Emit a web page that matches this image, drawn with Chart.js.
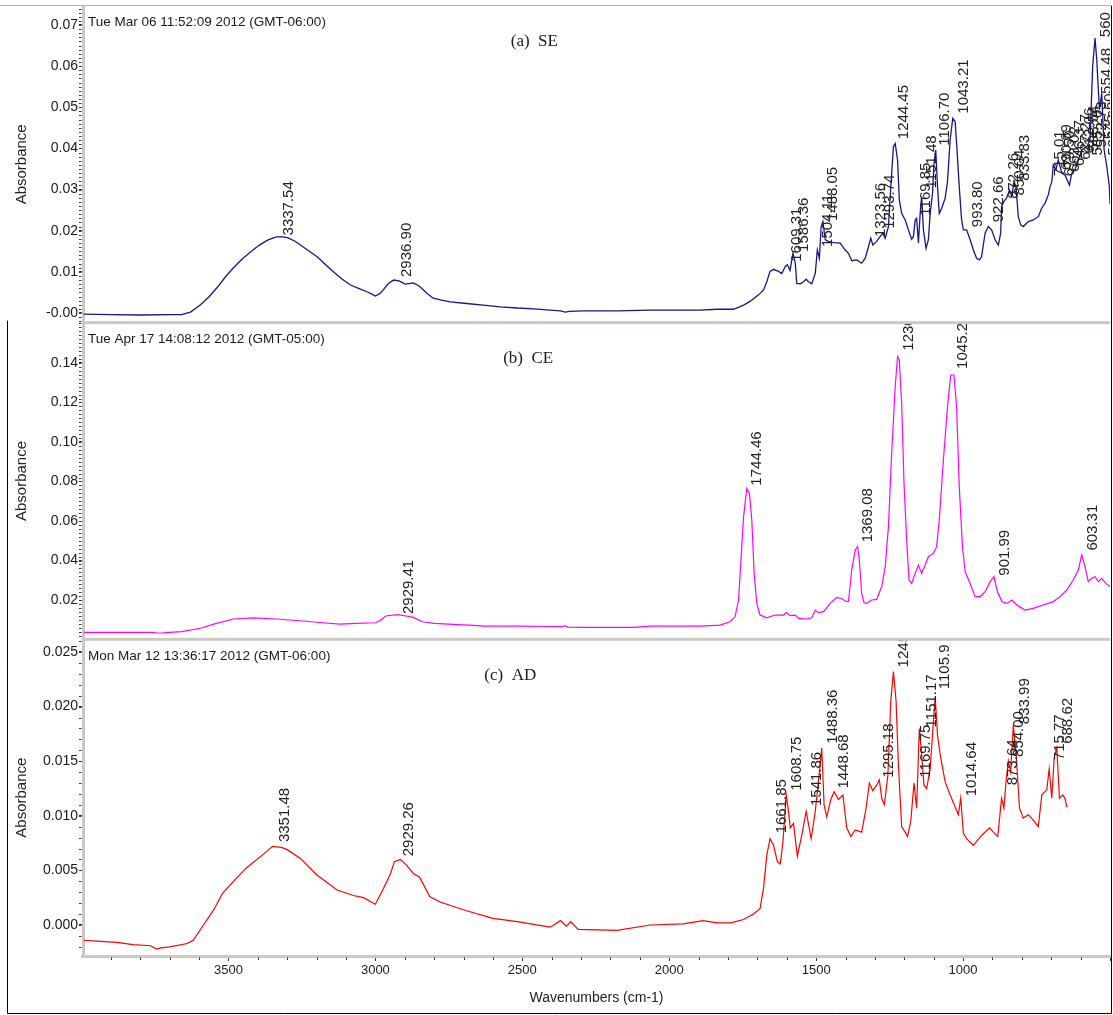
<!DOCTYPE html>
<html><head><meta charset="utf-8">
<script src="https://cdn.jsdelivr.net/npm/chart.js@4.4.1/dist/chart.umd.min.js"></script>
<style>html,body{margin:0;padding:0;background:#fff;}#wrap{position:relative;width:1113px;height:1015px;}</style>
</head><body><div id="wrap"><canvas id="c" width="1113" height="1015"></canvas></div>
<script>
// ---------- (a) SE ----------
const wnA = [3993,3900,3800,3700,3660,3629,3595,3565,3537,3510,3483,3455,3425,3395,3367,3337,3315,3299,3275,3255,3225,3197,3170,3143,3115,3085,3055,3027,3010,3000,2985,2973,2960,2949,2937,2920,2898,2880,2871,2860,2847,2825,2803,2775,2745,2690,2633,2575,2517,2460,2405,2370,2354,2340,2293,2177,2065,1952,1895,1837,1781,1747,1725,1696,1679,1668,1657,1645,1628,1617,1605,1598,1589,1579,1571,1566,1554,1543,1534,1526,1515,1503,1496,1489,1483,1477,1469,1458,1441,1418,1401,1390,1379,1362,1345,1333,1322,1314,1307,1294,1282,1273,1265,1254,1246,1237,1231,1223,1217,1209,1197,1186,1175,1169,1163,1158,1152,1146,1141,1135,1126,1118,1112,1104,1099,1093,1087,1081,1073,1061,1053,1044,1035,1027,1022,1013,1005,999,988,976,965,954,944,937,925,914,903,891,880,872,869,861,852,842,834,827,820,812,804,795,778,761,744,733,721,710,704,698,693,684,676,664,653,638,630,619,608,596,579,568,559,551,545,536,528,520,511,502,500];
const absA = [-0.0003,-0.0004,-0.0005,-0.0004,-0.0004,0.0002,0.0020,0.0040,0.0063,0.0088,0.0110,0.0130,0.0148,0.0165,0.0177,0.0185,0.0185,0.0183,0.0175,0.0165,0.0150,0.0136,0.0118,0.0100,0.0083,0.0068,0.0059,0.0051,0.0045,0.0041,0.0047,0.0056,0.0068,0.0075,0.0080,0.0078,0.0070,0.0072,0.0073,0.0069,0.0063,0.0048,0.0036,0.0031,0.0027,0.0023,0.0019,0.0015,0.0012,0.0010,0.0007,0.0005,0.0002,0.0004,0.0005,0.0005,0.0007,0.0007,0.0007,0.0009,0.0009,0.0019,0.0028,0.0044,0.0056,0.0076,0.0101,0.0106,0.0101,0.0096,0.0113,0.0117,0.0103,0.0145,0.0121,0.0072,0.0071,0.0076,0.0082,0.0076,0.0071,0.0096,0.0153,0.0133,0.0210,0.0222,0.0178,0.0174,0.0171,0.0170,0.0153,0.0145,0.0127,0.0129,0.0121,0.0133,0.0161,0.0182,0.0165,0.0174,0.0186,0.0194,0.0182,0.0210,0.0307,0.0404,0.0412,0.0372,0.0275,0.0242,0.0226,0.0202,0.0179,0.0186,0.0226,0.0230,0.0170,0.0242,0.0283,0.0202,0.0157,0.0178,0.0242,0.0291,0.0364,0.0396,0.0307,0.0242,0.0254,0.0279,0.0319,0.0421,0.0473,0.0465,0.0412,0.0307,0.0226,0.0202,0.0202,0.0178,0.0153,0.0133,0.0129,0.0137,0.0194,0.0210,0.0202,0.0178,0.0165,0.0194,0.0259,0.0271,0.0279,0.0299,0.0283,0.0319,0.0307,0.0234,0.0214,0.0210,0.0222,0.0226,0.0234,0.0254,0.0267,0.0287,0.0307,0.0319,0.0360,0.0348,0.0372,0.0340,0.0335,0.0311,0.0340,0.0348,0.0372,0.0396,0.0404,0.0421,0.0599,0.0668,0.0615,0.0494,0.0534,0.0396,0.0356,0.0307,0.0265];
const peakWnA = [3337.54,2936.90,1609.31,1586.36,1504.11,1488.05,1323.56,1293.74,1244.45,1169.85,1151.48,1106.70,1043.21,993.80,922.66,872.26,850.04,833.83,715.01,690.69,679.50,663.02,646.37,627.27,612.06,598.54,585.20,572.73,560,554.48,545.60,532.19,520.86,510.33];
const peakTextA = ['3337.54','2936.90','1609.31','1586.36','1504.11','1488.05','1323.56','1293.74','1244.45','1169.85','1151.48','1106.70','1043.21','993.80','922.66','872.26','850.04','833.83','715.01','690.69','679.50','663.02','646.37','627.27','612.06','598.54','585.20','572.73','560','554.48','545.60','532.19','520.86','510.33'];
const peakAbsA = [0.0186,0.0085,0.0122,0.0146,0.0158,0.0221,0.0182,0.0202,0.0420,0.0234,0.0300,0.0404,0.0482,0.0206,0.0218,0.0275,0.0283,0.0319,0.0330,0.0345,0.0330,0.0340,0.0355,0.0370,0.0385,0.0390,0.0380,0.0400,0.0668,0.0530,0.0420,0.0380,0.0350,0.0320];

// ---------- (b) CE ----------
const wnB = [3993,3800,3760,3745,3720,3700,3660,3595,3550,3483,3415,3337,3255,3180,3120,3065,3000,2985,2965,2925,2890,2870,2840,2800,2735,2650,2633,2517,2400,2360,2355,2345,2293,2120,2065,1895,1827,1793,1776,1764,1756,1747,1736,1727,1719,1711,1702,1691,1668,1640,1611,1602,1588,1571,1560,1532,1515,1503,1492,1475,1452,1430,1413,1401,1390,1379,1367,1359,1353,1345,1337,1328,1311,1294,1277,1265,1254,1243,1231,1223,1217,1209,1201,1192,1184,1175,1163,1152,1141,1129,1118,1101,1090,1081,1067,1053,1042,1031,1022,1013,1002,993,976,959,942,925,908,895,883,868,851,834,817,789,761,727,693,670,647,625,608,596,585,574,562,551,540,528,514,500];
const absB = [0.0036,0.0036,0.0036,0.0033,0.0034,0.0036,0.0040,0.0057,0.0078,0.0104,0.0110,0.0104,0.0095,0.0085,0.0078,0.0082,0.0085,0.0095,0.0119,0.0126,0.0118,0.0112,0.0090,0.0082,0.0077,0.0070,0.0068,0.0068,0.0066,0.0066,0.0070,0.0063,0.0062,0.0062,0.0068,0.0068,0.0073,0.0090,0.0115,0.0200,0.0402,0.0622,0.0765,0.0740,0.0605,0.0335,0.0183,0.0124,0.0110,0.0124,0.0124,0.0137,0.0121,0.0124,0.0107,0.0104,0.0110,0.0149,0.0136,0.0141,0.0183,0.0213,0.0208,0.0195,0.0192,0.0352,0.0453,0.0470,0.0402,0.0234,0.0186,0.0183,0.0200,0.0203,0.0268,0.0369,0.0571,0.0943,0.1280,0.1432,0.1415,0.1196,0.0791,0.0504,0.0301,0.0284,0.0335,0.0377,0.0335,0.0377,0.0419,0.0436,0.0470,0.0605,0.0909,0.1179,0.1339,0.1339,0.1179,0.0774,0.0470,0.0343,0.0284,0.0217,0.0217,0.0242,0.0293,0.0318,0.0242,0.0192,0.0183,0.0200,0.0175,0.0149,0.0158,0.0175,0.0192,0.0217,0.0251,0.0301,0.0352,0.0428,0.0369,0.0293,0.0310,0.0318,0.0293,0.0310,0.0284,0.0268];
const peakWnB = [2929.41,1744.46,1369.08,1230,1045.2,901.99,603.31];
const peakTextB = ['2929.41','1744.46','1369.08','1230','1045.2','901.99','603.31'];
const peakAbsB = [0.0124,0.0774,0.0487,0.1457,0.1365,0.0318,0.0445];

// ---------- (c) AD ----------
const wnC = [3993,3935,3880,3825,3765,3745,3730,3700,3640,3620,3585,3550,3520,3483,3440,3385,3350,3320,3300,3255,3200,3130,3075,3040,3020,3000,2975,2950,2935,2915,2895,2870,2850,2815,2780,2690,2600,2517,2405,2370,2350,2335,2310,2177,2065,1952,1885,1837,1790,1747,1713,1691,1679,1668,1657,1645,1632,1622,1613,1602,1594,1588,1577,1564,1549,1534,1517,1503,1489,1481,1473,1464,1450,1439,1424,1409,1396,1382,1367,1345,1330,1319,1307,1294,1285,1277,1268,1256,1246,1237,1228,1220,1209,1197,1189,1178,1167,1158,1149,1141,1133,1124,1112,1101,1095,1087,1078,1061,1044,1027,1016,1008,999,988,965,937,910,897,882,869,861,854,846,838,829,820,808,795,778,761,744,732,715,707,698,690,681,672,661,653,647];
const absC = [-0.0014,-0.0015,-0.0016,-0.0018,-0.0019,-0.0022,-0.0021,-0.0020,-0.0017,-0.0014,0.0000,0.0014,0.0029,0.0040,0.0052,0.0064,0.0072,0.0071,0.0069,0.0061,0.0046,0.0032,0.0027,0.0025,0.0022,0.0019,0.0032,0.0046,0.0058,0.0060,0.0055,0.0047,0.0044,0.0026,0.0021,0.0013,0.0006,0.0003,-0.0002,0.0004,-0.0001,0.0003,-0.0004,-0.0005,0.0000,0.0001,0.0004,0.0002,0.0002,0.0005,0.0010,0.0015,0.0034,0.0064,0.0079,0.0073,0.0058,0.0056,0.0076,0.0119,0.0104,0.0089,0.0093,0.0063,0.0082,0.0104,0.0079,0.0104,0.0140,0.0162,0.0110,0.0099,0.0115,0.0122,0.0115,0.0119,0.0089,0.0081,0.0087,0.0085,0.0107,0.0130,0.0123,0.0128,0.0133,0.0116,0.0110,0.0137,0.0205,0.0232,0.0205,0.0147,0.0090,0.0085,0.0081,0.0095,0.0130,0.0107,0.0180,0.0156,0.0128,0.0125,0.0143,0.0186,0.0209,0.0174,0.0156,0.0131,0.0119,0.0108,0.0101,0.0116,0.0084,0.0079,0.0073,0.0082,0.0089,0.0085,0.0081,0.0116,0.0107,0.0131,0.0150,0.0140,0.0183,0.0159,0.0107,0.0098,0.0101,0.0096,0.0090,0.0119,0.0124,0.0143,0.0116,0.0153,0.0162,0.0116,0.0119,0.0116,0.0108];
const peakWnC = [3351.48,2929.26,1661.85,1608.75,1541.86,1488.36,1448.68,1295.18,1245,1169.75,1151.17,1105.9,1014.64,873.64,854.00,833.99,715.77,688.62];
const peakTextC = ['3351.48','2929.26','1661.85','1608.75','1541.86','1488.36','1448.68','1295.18','1245','1169.75','1151.17','1105.9','1014.64','873.64','854.00','833.99','715.77','688.62'];
const peakAbsC = [0.0075,0.0062,0.0083,0.0122,0.0108,0.0165,0.0124,0.0134,0.0235,0.0134,0.0180,0.0215,0.0117,0.0127,0.0153,0.0183,0.0150,0.0165];

// ---------- axes ----------
const xTicks = [500,1000,1500,2000,2500,3000,3500];
const xTickLabels = ['','1000','1500','2000','2500','3000','3500'];
const xMinorStep = 100;
const yTicksA = [0,0.01,0.02,0.03,0.04,0.05,0.06,0.07];
const yTickLabelsA = ['-0.00','0.01','0.02','0.03','0.04','0.05','0.06','0.07'];
const yTicksB = [0.02,0.04,0.06,0.08,0.10,0.12,0.14];
const yTickLabelsB = ['0.02','0.04','0.06','0.08','0.10','0.12','0.14'];
const yTicksC = [0,0.005,0.010,0.015,0.020,0.025];
const yTickLabelsC = ['0.000','0.005','0.010','0.015','0.020','0.025'];
const yMinorStep = {yA: 0.001, yB: 0.002, yC: 0.001};
const yRange = {yA: [-0.00236, 0.07461], yB: [0.0001, 0.1604], yC: [-0.00284, 0.02616]};

const stamps = {yA: 'Tue Mar 06 11:52:09 2012 (GMT-06:00)', yB: 'Tue Apr 17 14:08:12 2012 (GMT-05:00)', yC: 'Mon Mar 12 13:36:17 2012 (GMT-06:00)'};
const panelTitles = {yA: '(a)  SE', yB: '(b)  CE', yC: '(c)  AD'};
const panelTitleWn = {yA: 2459, yB: 2480, yC: 2541};

const SANS = '"Liberation Sans", Arial, sans-serif';
const SERIF = '"Liberation Serif", "Times New Roman", serif';
const AXIS_GRAY = '#cdc9c2';
const TXT = '#1a1a1a';

function pts(w, a) { return w.map((v, i) => ({x: v, y: a[i]})); }

function yScaleCfg(id, ticks, labels) {
  return {
    type: 'linear', position: 'left', stack: 'panels', stackWeight: 1,
    min: yRange[id][0], max: yRange[id][1],
    afterFit: s => { s.width = 76; s.paddingTop = 0; s.paddingBottom = 0; },
    afterBuildTicks: s => { s.ticks = ticks.map(v => ({value: v})); },
    ticks: {autoSkip: false, padding: 1, color: TXT, font: {family: SANS, size: 14}, callback: (v, i) => labels[i]},
    grid: {drawOnChartArea: false, tickLength: 4, tickColor: '#333', tickWidth: 1},
    border: {display: true, color: AXIS_GRAY, width: 3},
    title: {display: true, text: 'Absorbance', color: '#222', font: {family: SANS, size: 15}, padding: {top: 6, bottom: 0}}
  };
}

const panels = [
  {id: 'yA', wn: peakWnA, text: peakTextA, abs: peakAbsA},
  {id: 'yB', wn: peakWnB, text: peakTextB, abs: peakAbsB},
  {id: 'yC', wn: peakWnC, text: peakTextC, abs: peakAbsC}
];

const decor = {
  id: 'decor',
  beforeDatasetDraw(chart, args) {
    const ys = chart.scales[args.meta.yAxisID], a = chart.chartArea, ctx = chart.ctx;
    ctx.save(); ctx.beginPath(); ctx.rect(a.left, ys.top, a.right - a.left, ys.bottom - ys.top); ctx.clip();
  },
  afterDatasetDraw(chart) { chart.ctx.restore(); },
  afterDraw(chart) {
    const ctx = chart.ctx, a = chart.chartArea, xs = chart.scales.x;
    // peak labels
    ctx.font = '15px ' + SANS; ctx.fillStyle = '#222';
    panels.forEach(p => {
      const ys = chart.scales[p.id];
      ctx.save(); ctx.beginPath(); ctx.rect(a.left, ys.top, a.right - a.left, ys.bottom - ys.top); ctx.clip();
      p.wn.forEach((w, i) => {
        const px = xs.getPixelForValue(w), py = ys.getPixelForValue(p.abs[i]);
        ctx.save(); ctx.translate(px + 13, py - 1); ctx.rotate(-Math.PI / 2);
        ctx.textAlign = 'left'; ctx.textBaseline = 'middle'; ctx.fillText(p.text[i], 0, 0);
        ctx.restore();
      });
      ctx.restore();
    });
    // minor ticks
    ctx.strokeStyle = '#333'; ctx.lineWidth = 1;
    ctx.beginPath();
    panels.forEach(p => {
      const ys = chart.scales[p.id], st = yMinorStep[p.id];
      const n0 = Math.ceil(ys.min / st), n1 = Math.floor(ys.max / st);
      for (let n = n0; n <= n1; n++) {
        const y = Math.round(ys.getPixelForValue(n * st)) + 0.5;
        ctx.moveTo(a.left - 4, y); ctx.lineTo(a.left - 1.5, y);
      }
    });
    for (let v = xMinorStep * Math.ceil(xs.min / xMinorStep); v <= xs.max; v += xMinorStep) {
      if (xTicks.includes(v)) continue;
      const x = Math.round(xs.getPixelForValue(v)) + 0.5;
      ctx.moveTo(x, a.bottom + 1.5); ctx.lineTo(x, a.bottom + 4);
    }
    ctx.stroke();
    // panel separators
    ctx.fillStyle = AXIS_GRAY;
    ['yB', 'yC'].forEach(id => {
      const t = chart.scales[id].top;
      ctx.fillRect(a.left - 1.5, t - 1.5, a.right - a.left + 1.5, 3);
    });
    // stamps & titles
    panels.forEach(p => {
      const ys = chart.scales[p.id];
      ctx.fillStyle = TXT; ctx.textBaseline = 'middle';
      ctx.font = '13.5px ' + SANS; ctx.textAlign = 'left';
      ctx.fillText(stamps[p.id], a.left + 5, ys.top + 16.5);
      ctx.font = '17px ' + SERIF; ctx.textAlign = 'center';
      ctx.fillText(panelTitles[p.id], xs.getPixelForValue(panelTitleWn[p.id]), ys.top + 36);
    });
    // frame
    const W = chart.width, H = chart.height;
    ctx.strokeStyle = '#b0b0b0'; ctx.beginPath(); ctx.moveTo(0, a.top - 0.5); ctx.lineTo(W - 1, a.top - 0.5); ctx.stroke();
    ctx.strokeStyle = '#000'; ctx.beginPath();
    ctx.moveTo(W - 1.5, a.top); ctx.lineTo(W - 1.5, H - 1.5);
    ctx.lineTo(7.5, H - 1.5); ctx.lineTo(7.5, chart.scales.yB.top - 2);
    ctx.stroke();
  }
};

new Chart(document.getElementById('c'), {
  type: 'line',
  data: {
    datasets: [
      {label: 'SE', data: pts(wnA, absA), yAxisID: 'yA', borderColor: '#16168a', borderWidth: 1.3},
      {label: 'CE', data: pts(wnB, absB), yAxisID: 'yB', borderColor: '#ff00ff', borderWidth: 1.2},
      {label: 'AD', data: pts(wnC, absC), yAxisID: 'yC', borderColor: '#ff0000', borderWidth: 1.2}
    ]
  },
  options: {
    responsive: false, devicePixelRatio: 1, animation: false, events: [],
    parsing: true,
    elements: {point: {radius: 0}, line: {tension: 0, fill: false}},
    layout: {padding: {left: 7, top: 6, right: 3, bottom: 2}},
    plugins: {legend: {display: false}, tooltip: {enabled: false}, title: {display: false}},
    scales: {
      x: {
        type: 'linear', reverse: true, min: 500, max: 3995, position: 'bottom',
        afterFit: s => { s.height = 57; s.paddingLeft = 0; s.paddingRight = 0; },
        afterBuildTicks: s => { s.ticks = xTicks.map(v => ({value: v})); },
        ticks: {autoSkip: false, maxRotation: 0, padding: 2, color: TXT, font: {family: SANS, size: 13}, callback: (v, i) => xTickLabels[i]},
        grid: {drawOnChartArea: false, tickLength: 5, tickColor: '#333', tickWidth: 1},
        border: {display: true, color: AXIS_GRAY, width: 3},
        title: {display: true, text: 'Wavenumbers (cm-1)', color: '#222', font: {family: SANS, size: 14}, padding: {top: 0, bottom: 6}}
      },
      yC: yScaleCfg('yC', yTicksC, yTickLabelsC),
      yB: yScaleCfg('yB', yTicksB, yTickLabelsB),
      yA: yScaleCfg('yA', yTicksA, yTickLabelsA)
    }
  },
  plugins: [decor]
});
</script>
</body></html>
